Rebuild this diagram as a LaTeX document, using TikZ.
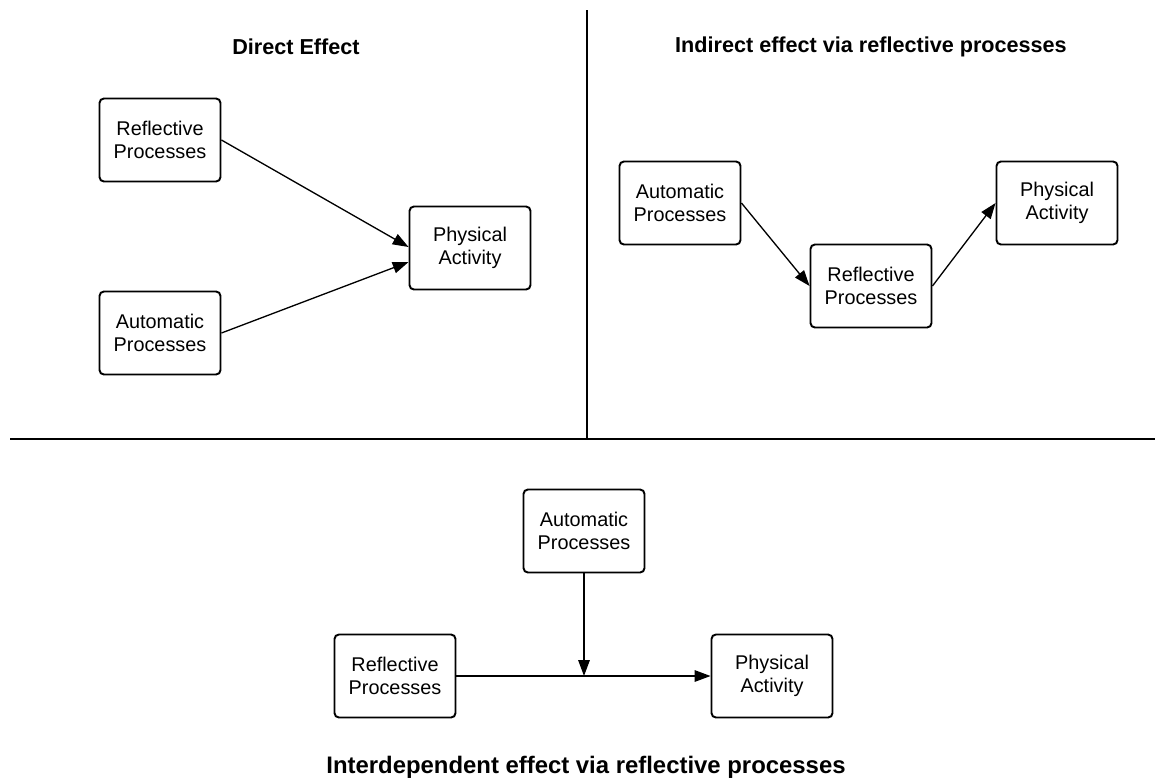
\documentclass[tikz,border=0pt]{standalone}
\usepackage{fontspec}
\setmainfont{Liberation Sans}
\usetikzlibrary{arrows.meta}
\usetikzlibrary{calc}

\tikzset{
	procbox/.style={draw, line width=1.1pt, rounded corners=2.5pt, align=center,
		minimum width=2.42cm, minimum height=1.66cm, inner sep=2pt,
		font=\fontsize{11.3}{13.2}\selectfont},
	arr/.style={-{Triangle[length=9pt, width=6.5pt]}, line width=0.75pt},
	paneltitle/.style={font=\fontsize{12.3}{14}\selectfont\bfseries},
	divider/.style={line width=1.5pt}
}

\begin{document}
\begin{tikzpicture}[x=0.02cm, y=-0.02cm]
	\useasboundingbox (0, 0) rectangle (1155, 778);

	% dividing lines
	\coordinate (vtop) at (587, 10);
	\coordinate (vbot) at (587, 439);
	\coordinate (hleft) at (10, 439);
	\coordinate (hright) at (1155, 439);
	\draw[divider] (vtop) -- (vbot);
	\draw[divider] (hleft) -- (hright);

	% direct effect
	\node[paneltitle] (titleA) at (296, 47) {Direct Effect};
	\node[procbox] (refA) at (160, 140) {Reflective\\Processes};
	\node[procbox] (autoA) at (160, 333) {Automatic\\Processes};
	\node[procbox] (paA) at (470, 248) {Physical\\Activity};
	\draw[arr] (refA.east) -- ($(paA.west)+(0, -1)$);
	\draw[arr] (autoA.east) -- ($(paA.west)+(0, 14)$);

	% indirect effect
	\node[paneltitle] (titleB) at (871, 47) {Indirect effect via reflective processes};
	\node[procbox] (autoB) at (680, 203) {Automatic\\Processes};
	\node[procbox] (refB) at (871, 286) {Reflective\\Processes};
	\node[procbox] (paB) at (1057, 203) {Physical\\Activity};
	\draw[arr] (autoB.east) -- (refB.west);
	\draw[arr] (refB.east) -- (paB.west);

	% interdependent effect
	\node[procbox] (autoC) at (584, 531) {Automatic\\Processes};
	\node[procbox] (refC) at (395, 676) {Reflective\\Processes};
	\node[procbox] (paC) at (772, 676) {Physical\\Activity};
	\coordinate (meet) at (autoC.south |- refC.east);
	\draw[arr] (refC.east) -- (paC.west);
	\draw[arr] (autoC.south) -- (meet);
	\node[paneltitle, font=\fontsize{13.6}{15}\selectfont\bfseries] (titleC) at (586, 767) {Interdependent effect via reflective processes};

\end{tikzpicture}
\end{document}
